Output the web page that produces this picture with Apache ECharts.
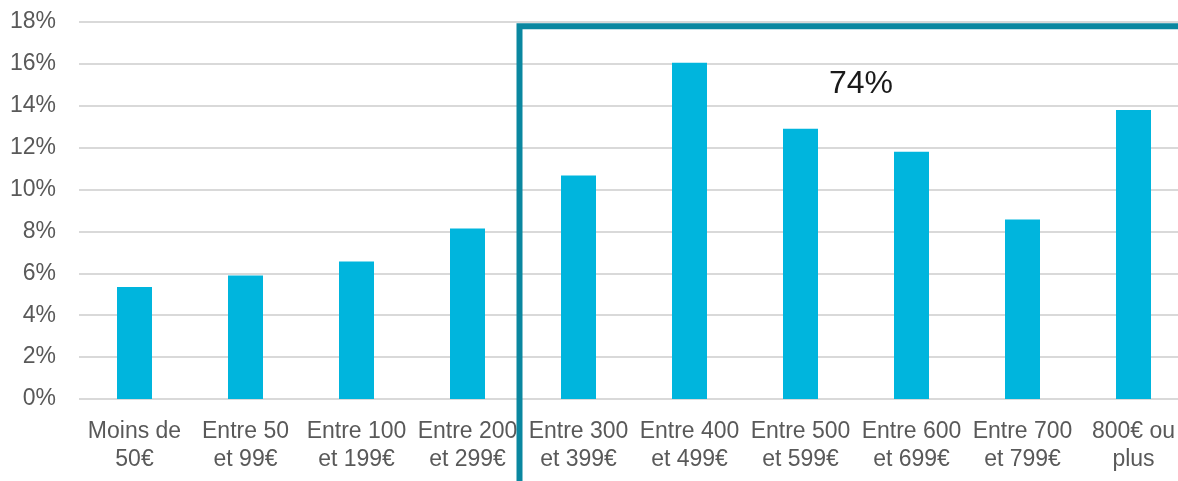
<!DOCTYPE html>
<html><head><meta charset="utf-8">
<script src="https://cdn.jsdelivr.net/npm/echarts@6/dist/echarts.min.js"></script>
<style>html,body{margin:0;padding:0;background:#fff}#c{width:1178px;height:481px}</style>
</head><body><div id="c"></div>
<script>
const categories = ['Moins de\n50€','Entre 50\net 99€','Entre 100\net 199€','Entre 200\net 299€','Entre 300\net 399€','Entre 400\net 499€','Entre 500\net 599€','Entre 600\net 699€','Entre 700\net 799€','800€ ou\nplus'];
const values = [5.35, 5.9, 6.57, 8.14, 10.67, 16.05, 12.9, 11.8, 8.57, 13.8];
const yTicks = [0, 2, 4, 6, 8, 10, 12, 14, 16, 18];
const boxLabel = '74%';
const boxStartCategory = 4;

const chart = echarts.init(document.getElementById('c'));
chart.setOption({
  animation: false,
  grid: { left: 79, width: 1110, top: 22, bottom: 82, containLabel: false, outerBoundsMode: 'none' },
  xAxis: {
    type: 'category', data: categories,
    axisLine: { show: false }, axisTick: { show: false },
    axisLabel: { interval: 0, color: '#595959', fontSize: 23, lineHeight: 28, margin: 19, fontFamily: 'Liberation Sans, Arial, sans-serif' }
  },
  yAxis: {
    type: 'value', min: 0, max: 18, interval: 2,
    axisLine: { show: false }, axisTick: { show: false },
    axisLabel: { color: '#595959', fontSize: 23, margin: 23, formatter: v => v + '%', fontFamily: 'Liberation Sans, Arial, sans-serif' },
    splitLine: { lineStyle: { color: '#d9d9d9', width: 2 } }
  },
  series: [{
    type: 'bar', data: values, barWidth: 35,
    itemStyle: { color: '#00b5dd' }
  }]
});

function drawBox() {
  const a = chart.convertToPixel({ xAxisIndex: 0 }, boxStartCategory - 1);
  const b = chart.convertToPixel({ xAxisIndex: 0 }, boxStartCategory);
  const x = (a + b) / 2 - 3.5;
  const yTop = chart.convertToPixel({ yAxisIndex: 0 }, 17.8);
  const tx = (chart.convertToPixel({ xAxisIndex: 0 }, 6) + chart.convertToPixel({ xAxisIndex: 0 }, 7)) / 2 + 5;
  const ty = chart.convertToPixel({ yAxisIndex: 0 }, 15.05);
  chart.setOption({
    graphic: [
      { type: 'polyline', shape: { points: [[x, 481], [x, yTop], [1178, yTop]] }, style: { stroke: '#0a87a0', lineWidth: 6, fill: null }, z: 10 },
      { type: 'text', x: tx, y: ty, style: { text: boxLabel, font: '32px "Liberation Sans", Arial, sans-serif', fill: '#1a1a1a', textAlign: 'center', textVerticalAlign: 'middle' }, z: 10 }
    ]
  });
}
drawBox();
</script></body></html>
